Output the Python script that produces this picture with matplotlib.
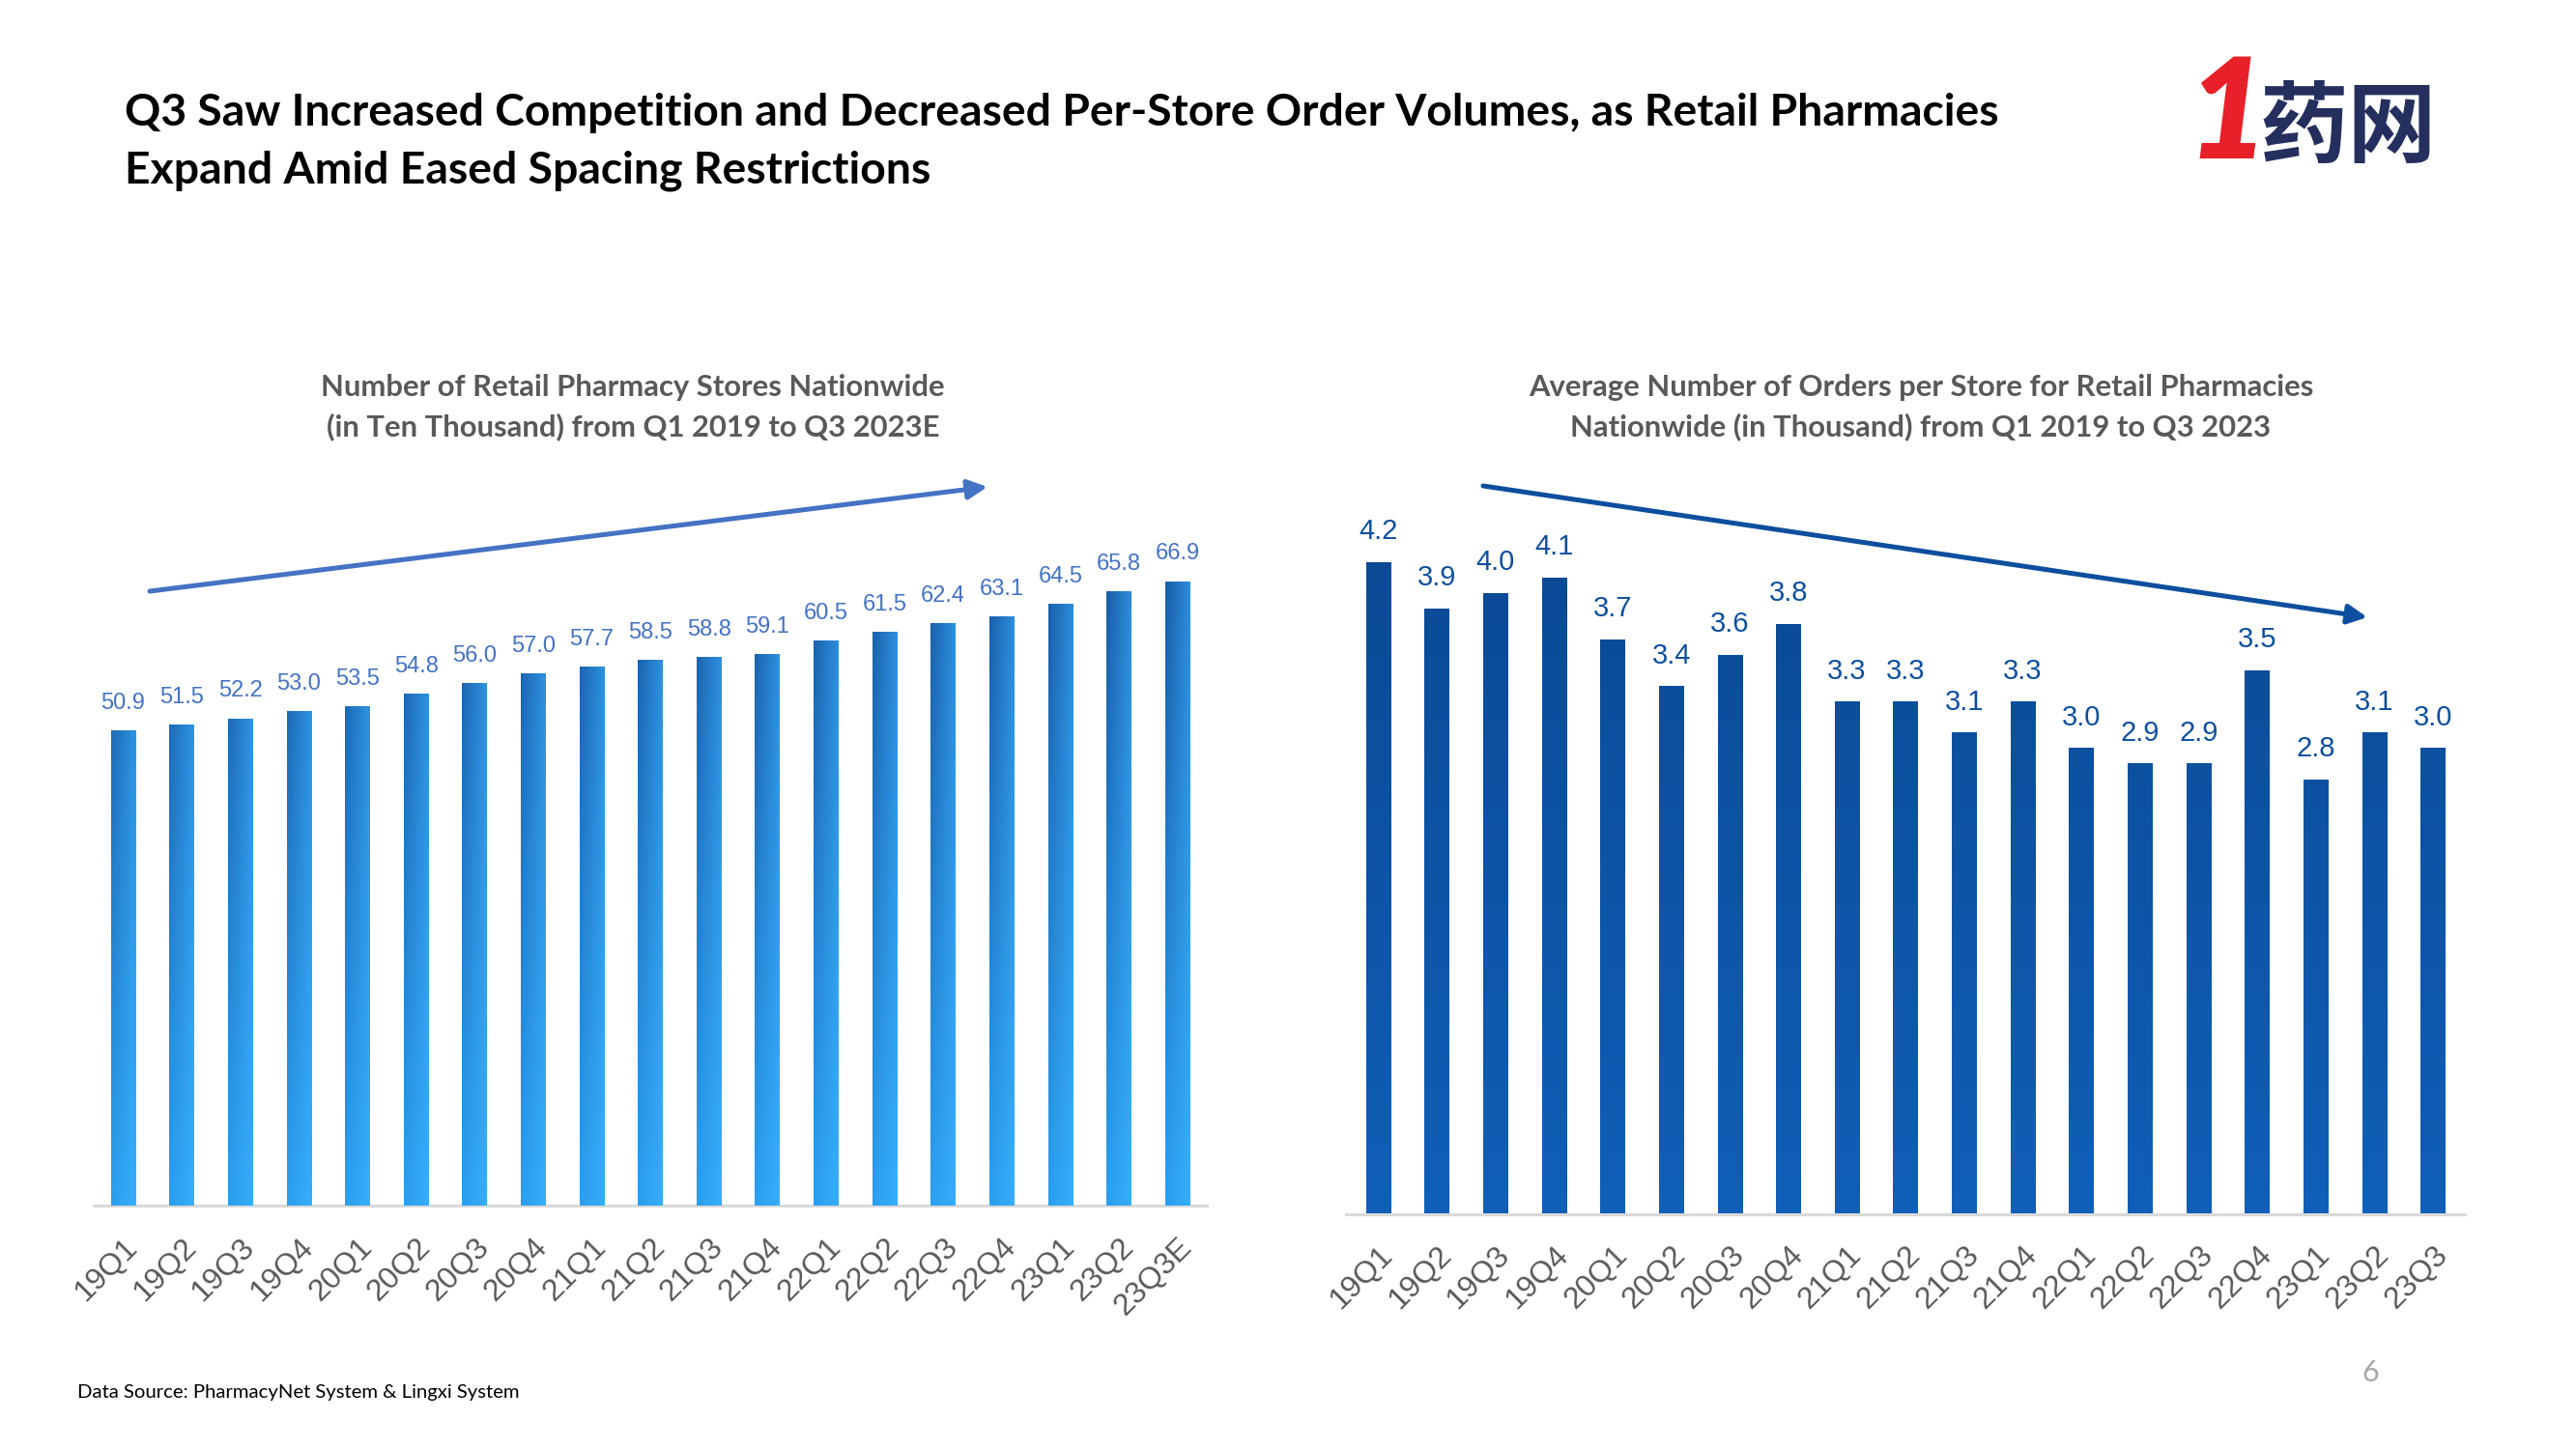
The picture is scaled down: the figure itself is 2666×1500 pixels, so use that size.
import numpy as np
import matplotlib
matplotlib.use("Agg")
import matplotlib.pyplot as plt
from matplotlib.colors import to_rgb

quarters_left = ["19Q1", "19Q2", "19Q3", "19Q4", "20Q1", "20Q2", "20Q3", "20Q4", "21Q1", "21Q2",
                 "21Q3", "21Q4", "22Q1", "22Q2", "22Q3", "22Q4", "23Q1", "23Q2", "23Q3E"]
stores = [50.9, 51.5, 52.2, 53.0, 53.5, 54.8, 56.0, 57.0, 57.7, 58.5,
          58.8, 59.1, 60.5, 61.5, 62.4, 63.1, 64.5, 65.8, 66.9]

quarters_right = ["19Q1", "19Q2", "19Q3", "19Q4", "20Q1", "20Q2", "20Q3", "20Q4", "21Q1", "21Q2",
                  "21Q3", "21Q4", "22Q1", "22Q2", "22Q3", "22Q4", "23Q1", "23Q2", "23Q3"]
orders = [4.2, 3.9, 4.0, 4.1, 3.7, 3.4, 3.6, 3.8, 3.3, 3.3,
          3.1, 3.3, 3.0, 2.9, 2.9, 3.5, 2.8, 3.1, 3.0]

W, H = 2666, 1500
fig = plt.figure(figsize=(W / 100, H / 100), dpi=100)
fig.patch.set_facecolor("white")


def px_axes(left, bottom_y, width, height):
    # pixel box, bottom_y measured from the top of the page
    return fig.add_axes([left / W, (H - bottom_y) / H, width / W, height / H])


def gradient_bars(ax, bars, ymax, tl, tr, bl, br):
    tl, tr, bl, br = [np.array(to_rgb(c)) for c in (tl, tr, bl, br)]
    for b in bars:
        x0 = b.get_x()
        w = b.get_width()
        h = b.get_height()
        t = np.linspace(0, 1, 32)[None, :, None]
        yy = (np.linspace(h, 0, 64) / ymax)[:, None, None]
        top = tl * (1 - t) + tr * t
        bot = bl * (1 - t) + br * t
        img = bot * (1 - yy) + top * yy
        im = ax.imshow(img, extent=(x0, x0 + w, 0, h), aspect="auto", zorder=3,
                       interpolation="bilinear")
        im.set_clip_path(b)
        b.set_facecolor("none")


def style_axes(ax, labels, tick_pad):
    for s in ("top", "left", "right"):
        ax.spines[s].set_visible(False)
    ax.spines["bottom"].set_color("#d9d9d9")
    ax.spines["bottom"].set_linewidth(2.2)
    ax.set_yticks([])
    ax.set_xticks(range(len(labels)))
    ax.set_xticklabels(labels, rotation=45, ha="right", va="top", rotation_mode="anchor",
                       fontsize=23, color="#595959", family="Liberation Sans")
    ax.tick_params(axis="x", length=0, pad=tick_pad)
    ax.set_facecolor("none")


# left chart
axl = px_axes(97.2, 1248, 1151.6, 773)
x = np.arange(len(stores))
bl_bars = axl.bar(x, stores, width=0.42, color="#2a8fe0", zorder=3)
gradient_bars(axl, bl_bars, 67, "#1a5ca6", "#2b8ddc", "#2b9eee", "#36aefb")
axl.set_xlim(-0.5, 18.5)
axl.set_ylim(0, 80)
for xi, v in zip(x, stores):
    axl.annotate(f"{v:.1f}", (xi, v), xytext=(0, 16), textcoords="offset points",
                 ha="center", va="baseline", fontsize=17, color="#4472c4",
                 family="Liberation Sans")
style_axes(axl, quarters_left, 20)

# right chart
axr = px_axes(1393.1, 1256.5, 1158.2, 803.5)
x2 = np.arange(len(orders))
br_bars = axr.bar(x2, orders, width=0.42, color="#0d53a5", zorder=3)
gradient_bars(axr, br_bars, 4.2, "#0b4a95", "#0b4a95", "#105fb8", "#105fb8")
axr.set_xlim(-0.55, 18.55)
axr.set_ylim(0, 5)
for xi, v in zip(x2, orders):
    axr.annotate(f"{v:.1f}", (xi, v), xytext=(0, 17), textcoords="offset points",
                 ha="center", va="baseline", fontsize=21, color="#0d4f9e",
                 family="Liberation Sans")
style_axes(axr, quarters_right, 20)


# trend arrows (figure pixels)
def fig_arrow(p0, p1, color):
    fig.add_artist(matplotlib.patches.FancyArrowPatch(
        (p0[0] / W, 1 - p0[1] / H), (p1[0] / W, 1 - p1[1] / H),
        transform=fig.transFigure, arrowstyle="-|>,head_length=12,head_width=6",
        color=color, lw=3.6, mutation_scale=1, shrinkA=0, shrinkB=0))


fig_arrow((155, 612), (1022, 504), "#4472c4")
fig_arrow((1535, 503), (2450, 639), "#0d4f9e")

# titles
fig.text(129 / W, 1 - 117 / H, "Q3 Saw Increased Competition and Decreased Per-Store Order Volumes, as Retail Pharmacies",
         fontsize=33.3, fontweight="bold", family="Lato", color="black", va="center", ha="left")
fig.text(129 / W, 1 - 177 / H, "Expand Amid Eased Spacing Restrictions",
         fontsize=33.3, fontweight="bold", family="Lato", color="black", va="center", ha="left")

fig.text(655 / W, 1 - 401 / H, "Number of Retail Pharmacy Stores Nationwide",
         fontsize=22.3, fontweight="bold", family="Lato", color="#595959", ha="center", va="center")
fig.text(655 / W, 1 - 442 / H, "(in Ten Thousand) from Q1 2019 to Q3 2023E",
         fontsize=22.3, fontweight="bold", family="Lato", color="#595959", ha="center", va="center")
fig.text(1988 / W, 1 - 401 / H, "Average Number of Orders per Store for Retail Pharmacies",
         fontsize=22.3, fontweight="bold", family="Lato", color="#595959", ha="center", va="center")
fig.text(1988 / W, 1 - 442 / H, "Nationwide (in Thousand) from Q1 2019 to Q3 2023",
         fontsize=22.3, fontweight="bold", family="Lato", color="#595959", ha="center", va="center")

# footer
fig.text(80 / W, 1 - 1442 / H, "Data Source: PharmacyNet System & Lingxi System",
         fontsize=14.6, family="Lato", color="black", ha="left", va="center")
fig.text(2453 / W, 1 - 1421 / H, "6", fontsize=22, family="Lato", color="#a6a6a6",
         ha="center", va="center")

# logo
fig.text(2305 / W, 1 - 122 / H, "1", fontsize=104, fontweight="heavy", style="italic",
         family="Lato", color="#e8202a", ha="center", va="center")
fig.text(2430 / W, 1 - 134 / H, "药网", fontsize=66, fontweight="bold", style="italic",
         family=["Noto Sans CJK SC", "DejaVu Sans"], color="#252f5e", ha="center", va="center")

fig.savefig("out.png", dpi=100, facecolor="white")
